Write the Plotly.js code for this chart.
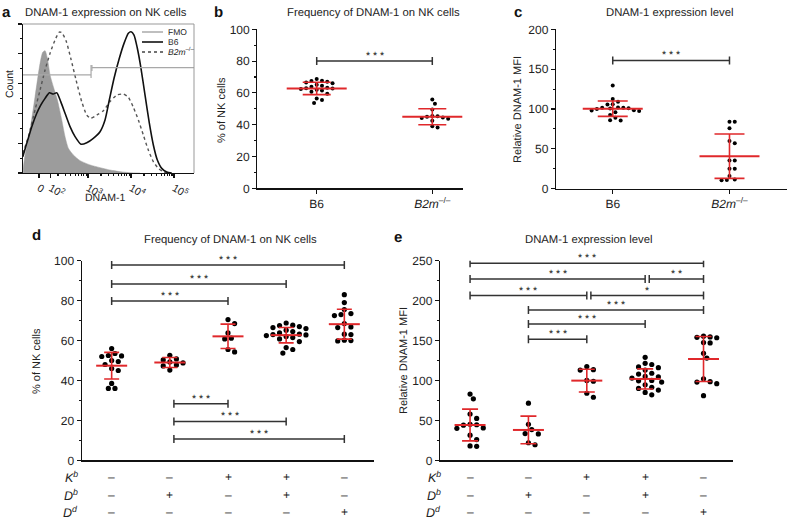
<!DOCTYPE html>
<html><head><meta charset="utf-8">
<script src="https://cdn.plot.ly/plotly-3.0.1.min.js"></script>
<style>html,body{margin:0;padding:0;background:#fff}#chart{width:788px;height:520px}svg text{text-rendering:geometricPrecision}</style>
</head><body><div id="chart"></div>
<script>
// ---------- Panel a: histograms (x in display units: 3 = 10^3, y = % of max count)
const aFmoX = [1.49, 1.535, 1.651, 1.767, 1.884, 1.946, 2.0, 2.054, 2.116, 2.193, 2.287, 2.388, 2.465, 2.542, 2.658, 2.814, 3.047, 3.279, 3.512, 3.744, 3.977, 4.209];
const aFmoY = [3, 12, 28.9, 51.2, 73.6, 81.0, 82.1, 77.0, 65.8, 57.9, 49.0, 35.6, 24.4, 16.6, 12.1, 8.3, 5.4, 3.6, 2.0, 0.9, 0.2, 0];
const aB6X = [1.482, 1.574, 1.691, 1.807, 1.9, 2.0, 2.1, 2.193, 2.272, 2.365, 2.465, 2.581, 2.698, 2.837, 2.97, 3.123, 3.279, 3.395, 3.495, 3.605, 3.728, 3.837, 3.938, 4.0, 4.07, 4.147, 4.226, 4.326, 4.426, 4.519, 4.612, 4.714, 4.83, 4.947];
const aB6Y = [10.9, 19.9, 31.1, 40.1, 45.6, 50.1, 53.9, 53.0, 53.9, 47.9, 40.1, 31.1, 24.4, 19.3, 20.3, 23.3, 27.7, 35.6, 49, 63.6, 77, 87, 93.8, 94.8, 92.6, 83.7, 71.3, 52.3, 33.4, 18.8, 8.7, 3.1, 0.7, 0];
const aKoX = [1.482, 1.612, 1.767, 1.884, 2.0, 2.116, 2.233, 2.333, 2.388, 2.488, 2.598, 2.721, 2.853, 2.97, 3.062, 3.202, 3.356, 3.512, 3.667, 3.821, 3.938, 4.054, 4.17, 4.286, 4.402, 4.519, 4.635, 4.751, 4.867];
const aKoY = [13.2, 24.4, 42.3, 55.7, 69.1, 80.3, 89.3, 94.6, 94.2, 88.8, 77, 62.4, 47.9, 38.9, 36.7, 38.9, 41.8, 47.9, 52.3, 53, 50.8, 44.1, 35.6, 25.5, 15.4, 7.6, 3.1, 0.9, 0];
const aTickVals = [1.86, 2.13, 3, 4, 5];
const aTickText = ['0', '10<sup>2</sup>', '10<sup>3</sup>', '10<sup>4</sup>', '10<sup>5</sup>'];
const aGateFrom = [1.48, 3.09];
const aGateTo = [3.07, 5.465];
const aGateY = [65.8, 70.7];
const aGateTickLo = [63.8, 68.5];
const aGateTickHi = [72.5, 72.5];
const aLegendNames = ['FMO', 'B6', '<i>B2m</i><sup>–/–</sup>'];

// ---------- Panel b: % of NK cells
const bCats = ['B6', '<i>B2m</i><sup>–/–</sup>'];
const bB6 = [68.8, 67.7, 67.5, 67.0, 66.5, 66.0, 65.2, 64.5, 63.8, 63.2, 63.0, 62.8, 62.5, 62.0, 61.5, 60.8, 59.5, 56.5, 55.5, 53.7];
const bKO = [55.8, 53.2, 49.5, 45.5, 45.3, 45.0, 44.6, 44.2, 43.8, 42.5, 39.0, 38.2];
const bMean = [62.8, 45.0];
const bSD = [3.9, 5.0];
const bSigY = [80];

// ---------- Panel c: relative MFI
const cCats = ['B6', '<i>B2m</i><sup>–/–</sup>'];
const cB6 = [129.5, 112.5, 109, 106, 105.5, 102, 101.5, 101.5, 101, 100.5, 100, 98.5, 98, 97.5, 96, 92.5, 89, 86, 85.5];
const cKO = [84, 84, 76, 60, 57, 35.5, 35.5, 25, 25, 16, 11.5, 11, 10.5];
const cMean = [100.4, 40.8];
const cSD = [9.6, 27.8];
const cSigY = [161];

// ---------- Panel d: % of NK cells by MHC class I transgene
const dG0 = [56, 53.5, 52.5, 52.3, 52, 50, 49.5, 48, 46, 45, 38.5, 36, 36];
const dG1 = [52.6, 50.8, 50.3, 49.3, 48.8, 47.8, 47.3, 45.2];
const dG2 = [70.5, 68.5, 63.8, 61.2, 60.8, 55.5, 54.3];
const dG3 = [68.8, 67.7, 67.5, 67.0, 66.5, 66.0, 65.2, 64.5, 63.8, 63.2, 63.0, 62.8, 62.5, 62.0, 61.5, 60.8, 59.5, 56.5, 55.5, 53.7];
const dG4 = [83, 79, 75.5, 73.5, 73, 72.5, 68.5, 66.8, 66.5, 63.2, 63, 60.2, 60, 59.8];
const dMean = [47.4, 49.0, 62.1, 62.7, 68.2];
const dSD = [6.65, 2.5, 6.1, 3.85, 7.5];
const dSigFrom = [0, 0, 0, 1.07, 1.07, 1.07];
const dSigTo = [4, 3, 2, 2, 3, 4];
const dSigY = [97.8, 88.3, 79.8, 28.3, 19.5, 10.7];
const dSigText = ['***', '***', '***', '***', '***', '***'];

// ---------- Panel e: relative MFI by MHC class I transgene
const eG0 = [83, 77, 58, 52.5, 45, 44.5, 44, 40.5, 40, 31.5, 26, 18, 17.5];
const eG1 = [71.5, 45, 38.5, 33.5, 33, 22, 19.5];
const eG2 = [117.5, 113.5, 113, 100, 99, 84, 79];
const eG3 = [129, 121.5, 120, 117, 116, 113, 109, 108, 105, 104.5, 103, 100, 99.5, 98, 94.5, 91.5, 90, 88, 85, 82];
const eG4 = [155.5, 154.5, 154, 153.5, 147.5, 147, 134, 128, 102, 98.5, 98, 96, 81];
const eMean = [44.2, 38.0, 99.8, 101.9, 126.9];
const eSD = [19.85, 17.35, 14.2, 12.55, 28.2];
const eSigFrom = [0, 0, 3.07, 0, 2.07, 1, 1, 1];
const eSigTo = [4, 3, 4, 2, 4, 4, 3, 2];
const eSigY = [246.9, 227.2, 227.2, 206.3, 206.3, 188.3, 170.8, 151.6];
const eSigText = ['***', '***', '**', '***', '*', '***', '***', '***'];

// ---------- genotype table (rows under d and e)
const rowLabels = ['<i>K</i><sup><i>b</i></sup>', '<i>D</i><sup><i>b</i></sup>', '<i>D</i><sup><i>d</i></sup>'];
const rowKb = ['–', '–', '+', '+', '–'];
const rowDb = ['–', '+', '–', '+', '–'];
const rowDd = ['–', '–', '–', '–', '+'];

// ================= layout helpers =================
const W = 788, H = 520;
const FONT = 'Liberation Sans, Arial, sans-serif';
const RED = '#e0282b';
const fx = p => p / W;
const fy = p => 1 - p / H;

const box = {
  a: {x0: 22.7, x1: 194, y0: 24, y1: 173, xr: [1.48, 5.465], yr: [0, 100]},
  b: {x0: 257.3, x1: 462.7, y0: 29.3, y1: 188.3, xr: [-0.514, 1.263], yr: [0, 100]},
  c: {x0: 556, x1: 786.7, y0: 29.3, y1: 188.7, xr: [-0.486, 1.49], yr: [0, 200]},
  d: {x0: 81.7, x1: 374, y0: 260.7, y1: 460.3, xr: [-0.515, 4.51], yr: [0, 100]},
  e: {x0: 440, x1: 733.3, y0: 260.7, y1: 460.3, xr: [-0.515, 4.51], yr: [0, 250]}
};
function scale(b) {
  return {px: (b.x1 - b.x0) / (b.xr[1] - b.xr[0]), py: (b.y1 - b.y0) / (b.yr[1] - b.yr[0])};
}

// beeswarm placement of dots around a category centre
function swarm(vals, center, b, dia) {
  const s = scale(b);
  const order = vals.map((v, i) => i).sort((p, q) => vals[q] - vals[p]);
  const placed = [];
  const xs = new Array(vals.length);
  const step = dia * 0.55;
  for (const i of order) {
    const yp = vals[i] * s.py;
    for (let k = 0; k < 200; k++) {
      const off = (k === 0 ? 0 : (k % 2 ? 1 : -1) * Math.ceil(k / 2)) * step;
      let ok = true;
      for (const p of placed) {
        const dx = p.x - off, dy = p.y - yp;
        if (dx * dx + dy * dy < dia * dia * 0.92) { ok = false; break; }
      }
      if (ok) { placed.push({x: off, y: yp}); xs[i] = center + off / s.px; break; }
    }
  }
  return xs;
}

const traces = [];
const shapes = [];
const annotations = [];

// ---------- panel a traces
traces.push({x: aFmoX, y: aFmoY, xaxis: 'x', yaxis: 'y', mode: 'lines', fill: 'tozeroy',
  fillcolor: '#9c9c9c', line: {color: '#9c9c9c', width: 0.5, shape: 'spline', smoothing: 0.6}, hoverinfo: 'skip'});
traces.push({x: aKoX, y: aKoY, xaxis: 'x', yaxis: 'y', mode: 'lines',
  line: {color: '#555', width: 1.4, dash: 'dot', shape: 'spline', smoothing: 0.6}, hoverinfo: 'skip'});
traces.push({x: aB6X, y: aB6Y, xaxis: 'x', yaxis: 'y', mode: 'lines',
  line: {color: '#111', width: 1.6, shape: 'spline', smoothing: 0.6}, hoverinfo: 'skip'});
for (let i = 0; i < aGateY.length; i++) {
  traces.push({x: [aGateFrom[i], aGateTo[i]], y: [aGateY[i], aGateY[i]], xaxis: 'x', yaxis: 'y',
    mode: 'lines', line: {color: '#a8a8a8', width: 1.2}, hoverinfo: 'skip'});
  const tx = i === 0 ? aGateTo[i] : aGateFrom[i];
  traces.push({x: [tx, tx], y: [aGateTickLo[i], aGateTickHi[i]], xaxis: 'x', yaxis: 'y',
    mode: 'lines', line: {color: '#a8a8a8', width: 1.2}, hoverinfo: 'skip'});
}
// border top/right of panel a
shapes.push({type: 'line', xref: 'paper', yref: 'paper', x0: fx(box.a.x0), x1: fx(box.a.x1), y0: fy(box.a.y0), y1: fy(box.a.y0), line: {color: '#999', width: 1}});
shapes.push({type: 'line', xref: 'paper', yref: 'paper', x0: fx(box.a.x1), x1: fx(box.a.x1), y0: fy(box.a.y0), y1: fy(box.a.y1), line: {color: '#999', width: 1}});
// manual legend
const legStyles = [{color: '#aaa', width: 1.5, dash: 'solid'}, {color: '#111', width: 1.6, dash: 'solid'}, {color: '#444', width: 1.4, dash: 'dot'}];
[32, 42, 52].forEach((yy, i) => {
  shapes.push({type: 'line', xref: 'paper', yref: 'paper', x0: fx(142), x1: fx(163), y0: fy(yy), y1: fy(yy), line: legStyles[i]});
  annotations.push({xref: 'paper', yref: 'paper', x: fx(166), y: fy(yy), xanchor: 'left', yanchor: 'middle',
    text: aLegendNames[i], showarrow: false, font: {family: FONT, size: 8.5, color: '#222'}});
});

// ---------- dot plots
function dotGroup(vals, center, b, ax, ay, size) {
  traces.push({x: swarm(vals, center, b, size + 0.8), y: vals, xaxis: ax, yaxis: ay, mode: 'markers',
    marker: {color: '#000', size: size}, cliponaxis: false, hoverinfo: 'skip'});
}
function meanSD(means, sds, ax, ay, meanW, capW) {
  traces.push({x: means.map((m, i) => i), y: means, xaxis: ax, yaxis: ay, mode: 'markers',
    marker: {symbol: 'line-ew', size: meanW / 1.4, color: RED, line: {color: RED, width: 2}},
    error_y: {type: 'data', array: sds, visible: true, color: RED, thickness: 1.6, width: capW},
    cliponaxis: false, hoverinfo: 'skip'});
}
function sig(from, to, ys, texts, xr, yr) {
  for (let i = 0; i < ys.length; i++) {
    shapes.push({type: 'line', xref: xr, yref: yr, x0: from[i], x1: to[i], y0: ys[i], y1: ys[i], line: {color: '#333', width: 1.5}});
    [from[i], to[i]].forEach(xx => shapes.push({type: 'line', xref: xr, yref: yr, ysizemode: 'pixel', yanchor: ys[i],
      x0: xx, x1: xx, y0: -4, y1: 4, line: {color: '#333', width: 1.5}}));
    annotations.push({xref: xr, yref: yr, x: (from[i] + to[i]) / 2, y: ys[i], yanchor: 'bottom', yshift: -3,
      text: texts[i].split('').join(' '), showarrow: false, font: {family: FONT, size: 10.5, color: '#222'}});
  }
}

dotGroup(bB6, 0, box.b, 'x2', 'y2', 4);
dotGroup(bKO, 1, box.b, 'x2', 'y2', 4);
meanSD(bMean, bSD, 'x2', 'y2', 60, 14);
sig([0], [1], bSigY, ['***'], 'x2', 'y2');

dotGroup(cB6, 0, box.c, 'x3', 'y3', 4);
dotGroup(cKO, 1, box.c, 'x3', 'y3', 4);
meanSD(cMean, cSD, 'x3', 'y3', 60, 15);
sig([0], [1], cSigY, ['***'], 'x3', 'y3');

[dG0, dG1, dG2, dG3, dG4].forEach((g, i) => dotGroup(g, i, box.d, 'x4', 'y4', 5.2));
meanSD(dMean, dSD, 'x4', 'y4', 31, 7.5);
sig(dSigFrom, dSigTo, dSigY, dSigText, 'x4', 'y4');

[eG0, eG1, eG2, eG3, eG4].forEach((g, i) => dotGroup(g, i, box.e, 'x5', 'y5', 5.2));
meanSD(eMean, eSD, 'x5', 'y5', 31, 8);
sig(eSigFrom, eSigTo, eSigY, eSigText, 'x5', 'y5');

// ---------- table under d/e
const rows = [rowKb, rowDb, rowDd];
const rowY = [477, 495, 512];
[['x4', 80], ['x5', 443]].forEach(([ax, lx]) => {
  rows.forEach((r, ri) => {
    annotations.push({xref: 'paper', yref: 'paper', x: fx(lx), y: fy(rowY[ri]), xanchor: 'right', yanchor: 'middle',
      text: rowLabels[ri], showarrow: false, font: {family: FONT, size: 12.5, color: '#222'}});
    r.forEach((s, gi) => annotations.push({xref: ax, yref: 'paper', x: gi, y: fy(rowY[ri]), yanchor: 'middle',
      text: s, showarrow: false, font: {family: FONT, size: 12, color: '#222'}}));
  });
});

// ---------- text: letters, titles, axis titles
const letters = [['a', 6, 12], ['b', 219, 12], ['c', 518, 12], ['d', 36, 236], ['e', 398, 238]];
letters.forEach(([t, x, y]) => annotations.push({xref: 'paper', yref: 'paper', x: fx(x), y: fy(y), xanchor: 'center', yanchor: 'middle',
  text: '<b>' + t + '</b>', showarrow: false, font: {family: FONT, size: 15, color: '#111'}}));
const titles = [['DNAM-1 expression on NK cells', 106, 13], ['Frequency of DNAM-1 on NK cells', 373, 13],
  ['DNAM-1 expression level', 669, 13], ['Frequency of DNAM-1 on NK cells', 230, 240], ['DNAM-1 expression level', 588, 240]];
titles.forEach(([t, x, y]) => annotations.push({xref: 'paper', yref: 'paper', x: fx(x), y: fy(y), xanchor: 'center', yanchor: 'middle',
  text: t, showarrow: false, font: {family: FONT, size: 11.3, color: '#222'}}));
const ytitles = [['Count', 10, 84, 10.5], ['% of NK cells', 222, 110, 11], ['Relative DNAM-1 MFI', 518, 110, 11],
  ['% of NK cells', 37, 361, 11], ['Relative DNAM-1 MFI', 404, 361, 11]];
ytitles.forEach(([t, x, y, s]) => annotations.push({xref: 'paper', yref: 'paper', x: fx(x), y: fy(y), xanchor: 'center', yanchor: 'middle',
  textangle: -90, text: t, showarrow: false, font: {family: FONT, size: s, color: '#222'}}));
annotations.push({xref: 'paper', yref: 'paper', x: fx(105), y: fy(198), xanchor: 'center', yanchor: 'middle',
  text: 'DNAM-1', showarrow: false, font: {family: FONT, size: 10.5, color: '#222'}});

// ---------- axes
const aMinor = [];
[2, 3, 4].forEach(k => [2, 3, 4, 5, 6, 7, 8, 9].forEach(m => aMinor.push(k + Math.log10(m))));
function axX(b, extra) {
  return Object.assign({domain: [fx(b.x0), fx(b.x1)], range: b.xr, showline: true, linecolor: '#111', linewidth: 1.2,
    showgrid: false, zeroline: false, ticks: 'outside', ticklen: 4, tickcolor: '#111', tickwidth: 1.1,
    tickfont: {family: FONT, size: 12, color: '#222'}, fixedrange: true}, extra);
}
function axY(b, extra) {
  return Object.assign({domain: [fy(b.y1), fy(b.y0)], range: b.yr, showline: true, linecolor: '#111', linewidth: 1.2,
    showgrid: false, zeroline: false, ticks: 'outside', ticklen: 4, tickcolor: '#111', tickwidth: 1.1,
    tickfont: {family: FONT, size: 12, color: '#222'}, fixedrange: true}, extra);
}
const layout = {
  width: W, height: H, margin: {l: 0, r: 0, t: 0, b: 0}, paper_bgcolor: '#fff', plot_bgcolor: 'rgba(0,0,0,0)',
  showlegend: false, font: {family: FONT},
  xaxis: axX(box.a, {anchor: 'y', tickmode: 'array', tickvals: aTickVals, ticktext: aTickText, tickfont: {family: FONT, size: 10.5, color: '#222'},
    minor: {tickmode: 'array', tickvals: aMinor, ticks: 'outside', ticklen: 2, tickcolor: '#111'}}),
  yaxis: axY(box.a, {anchor: 'x', dtick: 20, showticklabels: false, minor: {dtick: 10, ticks: 'outside', ticklen: 2, tickcolor: '#111'}}),
  xaxis2: axX(box.b, {anchor: 'y2', tickmode: 'array', tickvals: [0, 1], ticktext: bCats}),
  yaxis2: axY(box.b, {anchor: 'x2', dtick: 20, minor: {dtick: 10, ticks: 'outside', ticklen: 2, tickcolor: '#111'}}),
  xaxis3: axX(box.c, {anchor: 'y3', tickmode: 'array', tickvals: [0, 1], ticktext: cCats}),
  yaxis3: axY(box.c, {anchor: 'x3', dtick: 50, minor: {dtick: 25, ticks: 'outside', ticklen: 2, tickcolor: '#111'}}),
  xaxis4: axX(box.d, {anchor: 'y4', ticks: '', showticklabels: false}),
  yaxis4: axY(box.d, {anchor: 'x4', dtick: 20, minor: {dtick: 10, ticks: 'outside', ticklen: 2, tickcolor: '#111'}}),
  xaxis5: axX(box.e, {anchor: 'y5', ticks: '', showticklabels: false}),
  yaxis5: axY(box.e, {anchor: 'x5', dtick: 50, minor: {dtick: 25, ticks: 'outside', ticklen: 2, tickcolor: '#111'}}),
  shapes: shapes, annotations: annotations
};
Plotly.newPlot('chart', traces, layout, {staticPlot: true, displayModeBar: false});
</script></body></html>
